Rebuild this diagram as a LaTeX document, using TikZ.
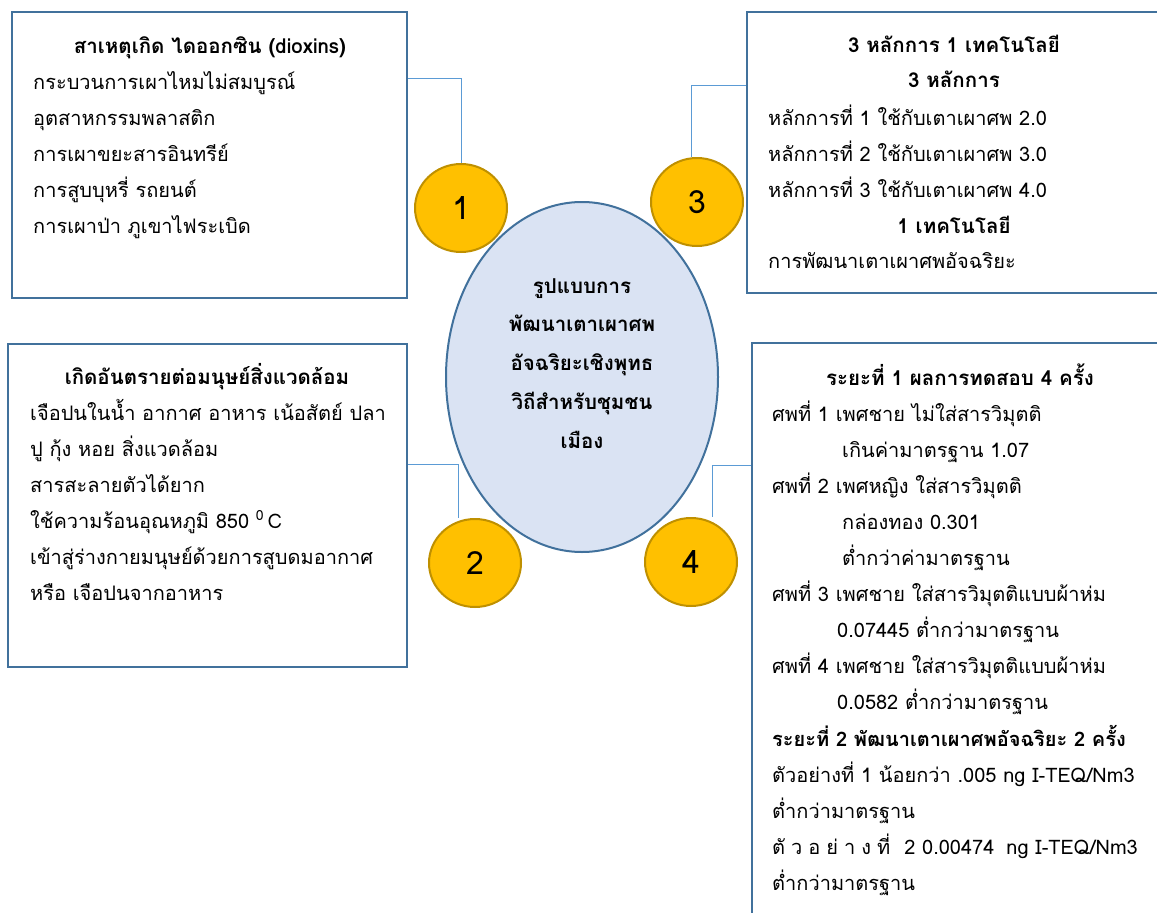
\documentclass[tikz,border=0pt]{standalone}
\usepackage{fontspec}
\setmainfont{Loma}[Script=Thai]
\usetikzlibrary{shapes.geometric}
\definecolor{boxblue}{RGB}{65,113,156}
\definecolor{ovalfill}{RGB}{218,227,243}
\definecolor{gold}{RGB}{255,192,0}
\definecolor{golddark}{RGB}{191,144,0}
\definecolor{linkblue}{RGB}{91,155,213}
\newcommand\spreadword{ตั\kern6pt ว\kern6pt อ\kern6pt ย่\kern6pt า\kern6pt ง\kern6pt ที่\kern14pt 2 0.00474\kern12pt ng I-TEQ/Nm3}
\begin{document}
\begin{tikzpicture}[x=1pt,y=-1pt,
  box/.style={draw=boxblue,line width=2pt,inner sep=0},
  num/.style={ellipse,draw=golddark,line width=2pt,fill=gold,minimum width=92pt,minimum height=88pt,font=\fontsize{32}{32}\selectfont},
  link/.style={linkblue,line width=1pt},
  txt/.style={anchor=base west,inner sep=0,font=\fontsize{20}{20}\selectfont},
  head/.style={anchor=base,inner sep=0,font=\fontsize{20.5}{20.5}\selectfont\bfseries}]
  \useasboundingbox (0,0) rectangle (1157,913);
  \node[box,minimum width=395pt,minimum height=286pt] (b1) at (209.5,155) {};
  \node[box,minimum width=430pt,minimum height=281pt] (b3) at (962,152.5) {};
  \node[box,minimum width=399pt,minimum height=323pt] (b2) at (207.5,505.5) {};
  \node[box,minimum width=430pt,minimum height=600pt] (b4) at (967,643) {};
  \node[ellipse,draw=boxblue,line width=2pt,fill=ovalfill,minimum width=272pt,minimum height=350pt] (hub) at (582,377) {};
  \node[num] (c1) at (461,208) {1};
  \node[num] (c3) at (697,202) {3};
  \node[num] (c2) at (475,563) {2};
  \node[num] (c4) at (691,562) {4};
  \draw[link] (c1.north) |- (b1.east |- 0,78);
  \draw[link] (c3.north -| 691,0) |- (b3.west |- 0,85);
  \draw[link] (b2.east |- 0,464) -| (c2.north -| 458,0);
  \draw[link] (b4.west |- 0,465) -| (c4.north -| 712,0);
  \foreach \t [count=\i from 0] in {รูปแบบการ,พัฒนาเตาเผาศพ,อัจฉริยะเชิงพุทธ,วิถีสำหรับชุมชน,เมือง}
    \node[head] (hub-\i) at (582,293+38.8*\i) {\t};
  \node[head] (b1-h) at (210,53) {สาเหตุเกิด ไดออกซิน (dioxins)};
  \foreach \t [count=\i] in {กระบวนการเผาไหมไม่สมบูรณ์,อุตสาหกรรมพลาสติก,การเผาขยะสารอินทรีย์,การสูบบุหรี่ รถยนต์,การเผาป่า ภูเขาไฟระเบิด}
    \node[txt] (b1-\i) at (33,53+36*\i) {\t};
  \node[head] (b2-h) at (207,384) {เกิดอันตรายต่อมนุษย์สิ่งแวดล้อม};
  \foreach \t [count=\i] in {เจือปนในน้ำ อากาศ อาหาร เน้อสัตย์ ปลา,ปู กุ้ง หอย สิ่งแวดล้อม,สารสะลายตัวได้ยาก,ใช้ความร้อนอุณหภูมิ 850 \textsuperscript{0}\,C,เข้าสู่ร่างกายมนุษย์ด้วยการสูบดมอากาศ,หรือ เจือปนจากอาหาร}
    \node[txt] (b2-\i) at (30,384+36*\i) {\t};
  \node[head] (b3-h) at (954,52) {3 หลักการ 1 เทคโนโลยี};
  \node[head] (b3-h2) at (954,87) {3 หลักการ};
  \foreach \t [count=\i] in {หลักการที่ 1 ใช้กับเตาเผาศพ 2.0,หลักการที่ 2 ใช้กับเตาเผาศพ 3.0,หลักการที่ 3 ใช้กับเตาเผาศพ 4.0}
    \node[txt] (b3-\i) at (768,89+36*\i) {\t};
  \node[head] (b3-h3) at (954,233) {1 เทคโนโลยี};
  \node[txt] (b3-4) at (768,268) {การพัฒนาเตาเผาศพอัจฉริยะ};
  \node[head] (b4-h) at (960,385) {ระยะที่ 1 ผลการทดสอบ 4 ครั้ง};
  \foreach \x/\t [count=\i] in {772/ศพที่ 1 เพศชาย ไม่ใส่สารวิมุตติ,842/เกินค่ามาตรฐาน 1.07,772/ศพที่ 2 เพศหญิง ใส่สารวิมุตติ,842/กล่องทอง 0.301,842/ต่ำกว่าค่ามาตรฐาน,772/ศพที่ 3 เพศชาย ใส่สารวิมุตติแบบผ้าห่ม,837/0.07445 ต่ำกว่ามาตรฐาน,772/ศพที่ 4 เพศชาย ใส่สารวิมุตติแบบผ้าห่ม,837/0.0582 ต่ำกว่ามาตรฐาน,772/\textbf{ระยะที่ 2 พัฒนาเตาเผาศพอัจฉริยะ 2 ครั้ง},772/{ตัวอย่างที่ 1 น้อยกว่า .005 ng I-TEQ/Nm3},772/ต่ำกว่ามาตรฐาน,772/\spreadword,772/ต่ำกว่ามาตรฐาน}
    \node[txt] (b4-\i) at (\x,385+36.1*\i) {\t};
\end{tikzpicture}
\end{document}
